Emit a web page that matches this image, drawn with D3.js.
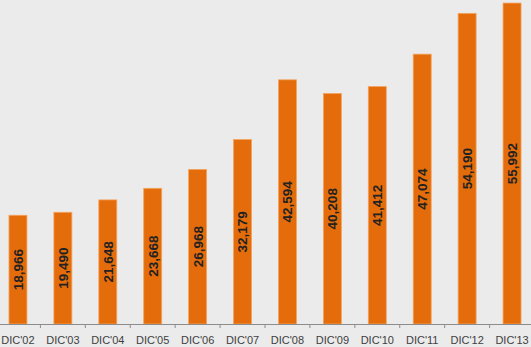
<!DOCTYPE html>
<html>
<head>
<meta charset="utf-8">
<script src="https://cdn.jsdelivr.net/npm/d3@7"></script>
<style>
  body { margin: 0; background: #ebebeb; }
  svg { display: block; }
</style>
</head>
<body>
<script>
const categories = ["DIC'02", "DIC'03", "DIC'04", "DIC'05", "DIC'06", "DIC'07", "DIC'08", "DIC'09", "DIC'10", "DIC'11", "DIC'12", "DIC'13"];
const values = [18966, 19490, 21648, 23668, 26968, 32179, 42594, 40208, 41412, 47074, 54190, 55992];

const width = 531, height = 347;
const axisY = 324;

const svg = d3.select("body").append("svg")
  .attr("width", width)
  .attr("height", height);

svg.append("rect")
  .attr("width", width)
  .attr("height", height)
  .attr("fill", "#ebebeb");

const x = d3.scaleBand()
  .domain(categories)
  .range([-4.5, 534.5])
  .paddingInner(0.6)
  .paddingOuter(0.3);

const y = d3.scaleLinear()
  .domain([0, 56000])
  .range([axisY, 3]);

// bars
svg.append("g")
  .selectAll("rect")
  .data(values)
  .enter()
  .append("rect")
  .attr("x", (d, i) => x(categories[i]))
  .attr("y", d => y(d))
  .attr("width", x.bandwidth())
  .attr("height", d => axisY - y(d))
  .attr("fill", "#e46c0a")
  .attr("stroke", "#f3a35c")
  .attr("stroke-width", 0.8);

// value labels, centred in each bar
svg.append("g")
  .selectAll("text")
  .data(values)
  .enter()
  .append("text")
  .attr("transform", (d, i) => {
    const cx = x(categories[i]) + x.bandwidth() / 2;
    const cy = (y(d) + axisY) / 2;
    return `translate(${cx},${cy}) rotate(-90)`;
  })
  .attr("text-anchor", "middle")
  .attr("dy", "0.36em")
  .style("font-family", "Liberation Sans, Arial, sans-serif")
  .style("font-size", "13.5px")
  .style("font-weight", "bold")
  .attr("fill", "#222")
  .text(d => d3.format(",")(d));

// x axis
const step = x.step();
const xAxis = d3.axisBottom(x).tickSize(0).tickPadding(12);
const gx = svg.append("g")
  .attr("transform", `translate(0,${axisY})`)
  .call(xAxis);
gx.select(".domain")
  .attr("d", `M0,0.5H${width}`)
  .attr("stroke", "#8c8c8c");
gx.selectAll("text")
  .style("font-family", "Liberation Sans, Arial, sans-serif")
  .style("font-size", "11px")
  .attr("fill", "#404040");

// tick marks between categories
gx.append("g")
  .selectAll("line")
  .data(categories.slice(1))
  .enter()
  .append("line")
  .attr("x1", d => x(d) - (step - x.bandwidth()) / 2)
  .attr("x2", d => x(d) - (step - x.bandwidth()) / 2)
  .attr("y1", 0)
  .attr("y2", 4)
  .attr("stroke", "#8c8c8c");
</script>
</body>
</html>
